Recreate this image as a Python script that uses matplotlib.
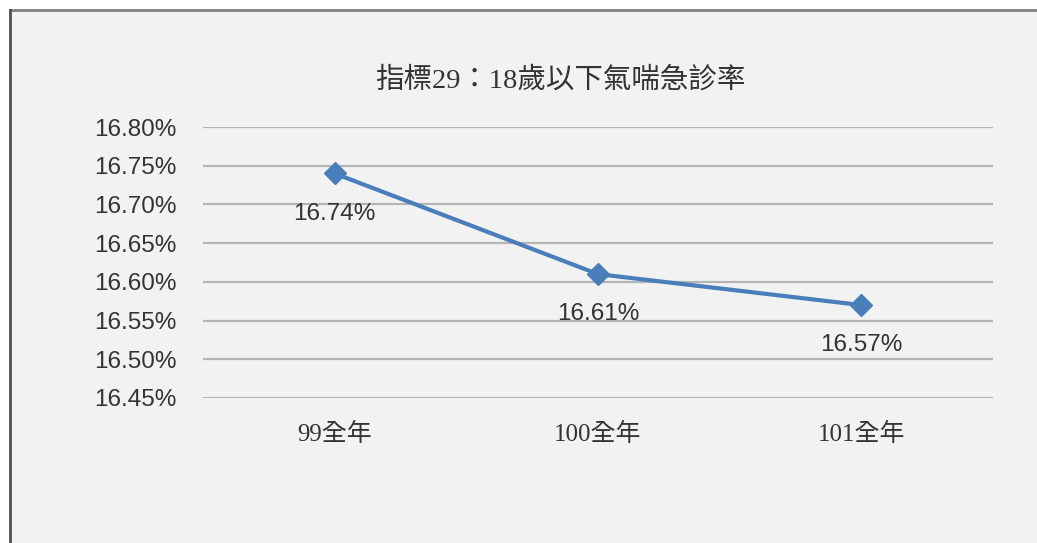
import matplotlib
matplotlib.use("Agg")
import matplotlib.pyplot as plt
from matplotlib.patches import Rectangle
from matplotlib.lines import Line2D

categories = ["99全年", "100全年", "101全年"]
values = [16.74, 16.61, 16.57]
value_labels = ["16.74%", "16.61%", "16.57%"]
yticks = [16.45, 16.50, 16.55, 16.60, 16.65, 16.70, 16.75, 16.80]
title = "指標29：18歲以下氣喘急診率"

W, H = 1037, 543
fig = plt.figure(figsize=(W / 100, H / 100), dpi=100)
fig.patch.set_facecolor("#f2f2f2")

# white margins (screenshot style)
fig.add_artist(Rectangle((0, 1 - 10 / H), 1, 10 / H, transform=fig.transFigure,
                         facecolor="white", edgecolor="none"))
fig.add_artist(Rectangle((0, 0), 10 / W, 1, transform=fig.transFigure,
                         facecolor="white", edgecolor="none"))
fig.add_artist(Line2D([10 / W, 1], [1 - 10 / H, 1 - 10 / H], transform=fig.transFigure,
                      color="#808080", lw=2))
fig.add_artist(Line2D([10 / W, 10 / W], [0, 1 - 10 / H], transform=fig.transFigure,
                      color="#505050", lw=2))

ax = fig.add_axes([203 / W, 1 - 398 / H, 790 / W, 271 / H])
ax.set_facecolor("none")
x = list(range(len(categories)))
ax.plot(x, values, color="#4a7ebb", lw=3, marker="D", markersize=11,
        markerfacecolor="#4a7ebb", markeredgecolor="#4a7ebb", zorder=3)
ax.set_xlim(-0.5, len(categories) - 0.5)
ax.set_ylim(yticks[0], yticks[-1])
ax.set_yticks(yticks)
ax.set_yticklabels([f"{t:.2f}%" for t in yticks], family="Liberation Sans", fontsize=17.5, color="#333333")
ax.set_xticks(x)
ax.set_xticklabels(categories, family=["Liberation Serif", "Noto Sans CJK TC"], fontsize=18,
                   color="#333333", fontweight="light")
ax.tick_params(axis="y", length=0, pad=19)
ax.tick_params(axis="x", length=0, pad=18)
ax.grid(axis="y", color="#b4b4b4", lw=1.6)
ax.set_axisbelow(True)
for s in ax.spines.values():
    s.set_visible(False)

for xi, v, lab in zip(x, values, value_labels):
    ax.annotate(lab, (xi, v), xytext=(0, -29), textcoords="offset points",
                ha="center", va="center", family="Liberation Sans", fontsize=17.5, color="#333333")

fig.text(560 / W, 1 - 80 / H, title, ha="center", va="center",
         family=["Liberation Serif", "Noto Sans CJK TC"], fontsize=20.5, color="#333333",
         fontweight="light")

fig.savefig("out.png", dpi=100, facecolor=fig.get_facecolor())
